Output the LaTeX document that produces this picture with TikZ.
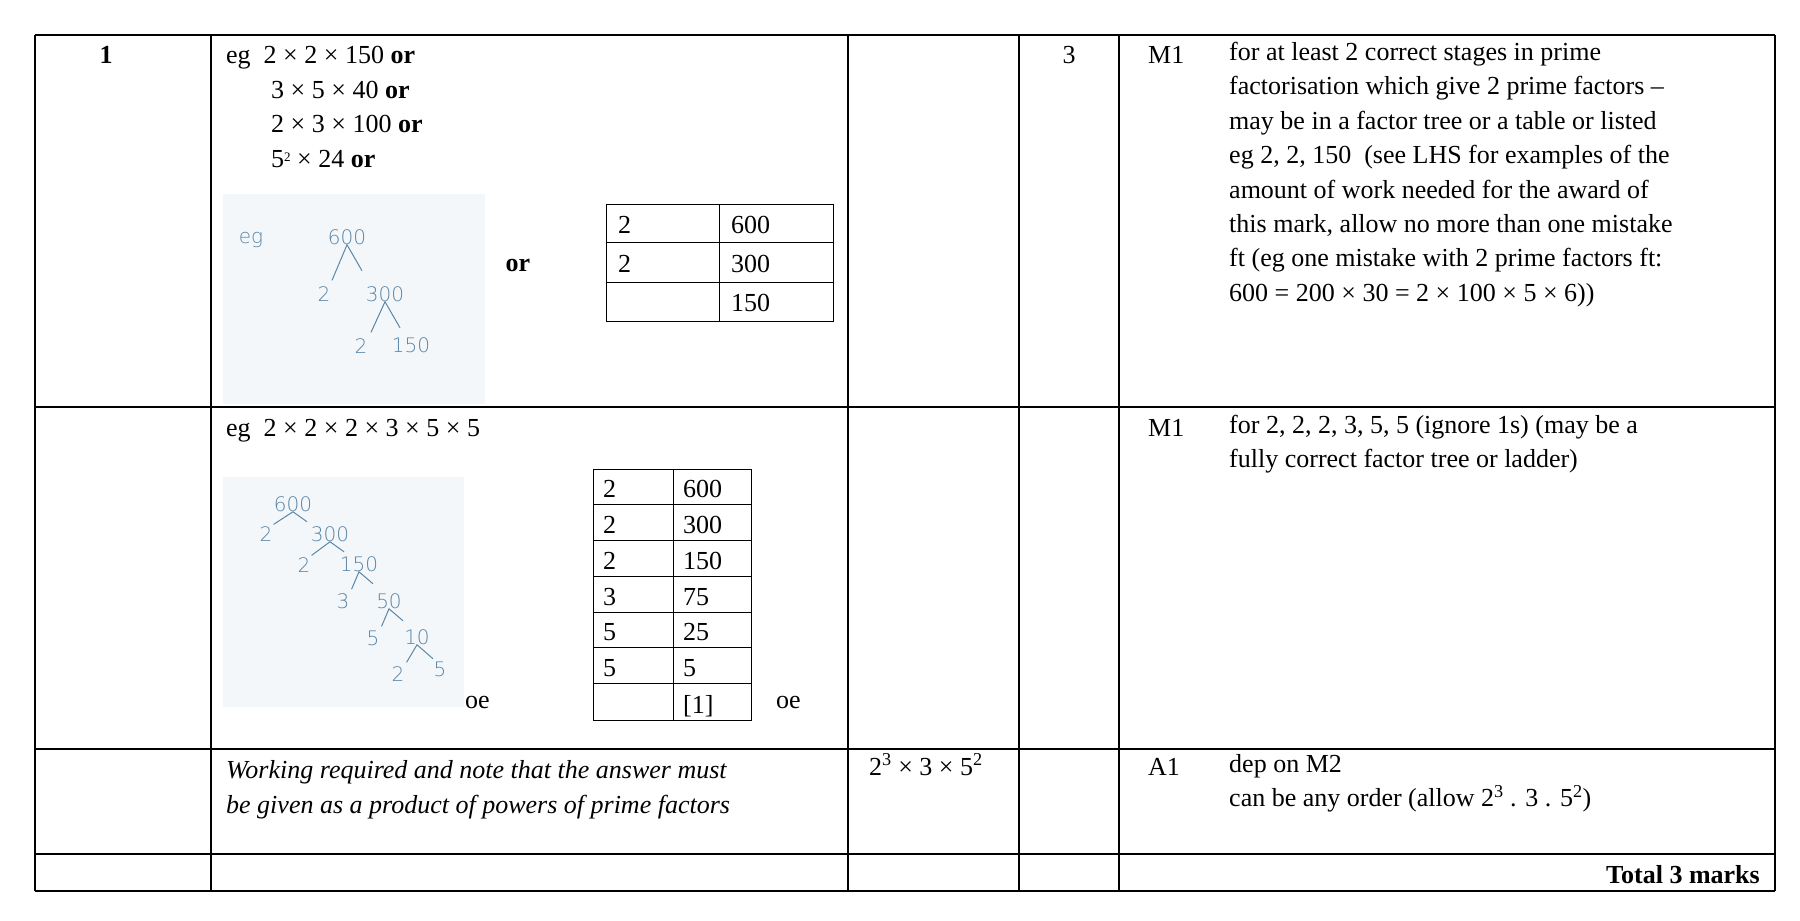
\documentclass[tikz,border=0pt]{standalone}
\usepackage{fontspec}
\setmainfont{Liberation Serif}
\newfontfamily\hand{DejaVu Sans ExtraLight}
\begin{document}
\begin{tikzpicture}[x=1pt,y=-1pt,
  tx/.style={anchor=base west,inner sep=0pt,font=\fontsize{26}{34}\selectfont},
  hw/.style={anchor=center,inner sep=0pt,text=hblue,font=\hand\fontsize{20}{20}\selectfont},
  hl/.style={draw=hblue,line width=1pt},
  grid/.style={line width=1.3pt},
  sgrid/.style={line width=1pt}]
\definecolor{hblue}{HTML}{5A86A8}
\definecolor{hbg}{HTML}{F4F7F9}
\useasboundingbox (0,0) rectangle (1800,921);
\fill[white] (0,0) rectangle (1800,921);
% main grid
\foreach \x in {35,211,848,1019,1119,1775} \draw[grid] (\x,35) -- (\x,891);
\foreach \y in {35,407,749,854,891} \draw[grid] (35,\y) -- (1775,\y);
% row 1
\node[tx,anchor=base] (q) at (106,63) {\textbf{1}};
\node[tx] (a1) at (226,63) {eg\enspace 2 × 2 × 150 \textbf{or}};
\node[tx] (a2) at (271,98) {3 × 5 × 40 \textbf{or}};
\node[tx] (a3) at (271,132) {2 × 3 × 100 \textbf{or}};
\node[tx] (a4) at (271,167) {5\raisebox{0.5ex}{\fontsize{13}{13}\selectfont 2} × 24 \textbf{or}};
% tree 1
\fill[hbg] (223,194) rectangle (485,404);
\node[hw] (eg) at (251,240) {eg};
\node[hw] (t600) at (347,237) {600};
\node[hw] (t2a) at (324,294) {2};
\node[hw] (t300) at (385,294) {300};
\node[hw] (t2b) at (361,346) {2};
\node[hw] (t150) at (411,345) {150};
\draw[hl] (t2a.north)++(8,-6) -- (t600.south) -- ++(15,26);
\draw[hl] (t2b.north)++(10,-6) -- (t300.south) -- ++(15,26);
\node[tx,anchor=base] (or1) at (518,271) {\textbf{or}};
% table 1
\draw[sgrid] (606,204) rectangle (833,321);
\draw[sgrid] (719,204) -- (719,321) (606,242) -- (833,242) (606,282) -- (833,282);
\node[tx] (c11) at (618,233) {2};
\node[tx] (c12) at (731,233) {600};
\node[tx] (c21) at (618,272) {2};
\node[tx] (c22) at (731,272) {300};
\node[tx] (c32) at (731,311) {150};
% row 2
\node[tx] (b1) at (226,436) {eg\enspace 2 × 2 × 2 × 3 × 5 × 5};
\fill[hbg] (223,477) rectangle (464,707);
\node[hw] (u600) at (293,504) {600};
\node[hw] (u2a) at (266,534) {2};
\node[hw] (u300) at (330,534) {300};
\node[hw] (u2b) at (304,565) {2};
\node[hw] (u150) at (359,564) {150};
\node[hw] (u3) at (343,601) {3};
\node[hw] (u50) at (389,601) {50};
\node[hw] (u5) at (373,638) {5};
\node[hw] (u10) at (417,637) {10};
\node[hw] (u2c) at (398,674) {2};
\node[hw] (u5b) at (440,669) {5};
\draw[hl] (u2a.north east)++(1,-2) -- (u600.south) ++(0,0) -- ++(14,10);
\draw[hl] (u2b.north east)++(1,-2) -- (u300.south) -- ++(14,10);
\draw[hl] (u3.north east)++(2,-4) -- (u150.south) -- ++(14,12);
\draw[hl] (u5.north east)++(2,-4) -- (u50.south) -- ++(14,12);
\draw[hl] (u2c.north east)++(2,-4) -- (u10.south) -- ++(16,14);
\node[tx] (oe1) at (465,708) {oe};
% table 2
\draw[sgrid] (593,469) rectangle (751,720);
\draw[sgrid] (673,469) -- (673,720);
\foreach \y in {504,540,576,612,647,683} \draw[sgrid] (593,\y) -- (751,\y);
\foreach \a/\b/\y [count=\i] in {2/600/497,2/300/533,2/150/569,3/75/605,5/25/640,5/5/676} {
  \node[tx] (l\i) at (603,\y) {\a};
  \node[tx] (r\i) at (683,\y) {\b};
}
\node[tx] (r7) at (683,713) {[1]};
\node[tx] (oe2) at (776,708) {oe};
% row 3
\node[tx] (w1) at (226,778) {\itshape Working required and note that the answer must};
\node[tx] (w2) at (226,813) {\itshape be given as a product of powers of prime factors};
\node[tx] (ans) at (869,775) {2\textsuperscript{3} × 3 × 5\textsuperscript{2}};
% marks column
\node[tx,anchor=base] (m3) at (1069,63) {3};
\node[tx] (m1) at (1148,63) {M1};
\node[tx,anchor=north west,align=left,font=\fontsize{26}{34.4}\selectfont] (g1) at (1229,42) {for at least 2 correct stages in prime\\factorisation which give 2 prime factors –\\may be in a factor tree or a table or listed\\eg 2, 2, 150\enspace (see LHS for examples of the\\amount of work needed for the award of\\this mark, allow no more than one mistake\\ft (eg one mistake with 2 prime factors ft:\\600 = 200 × 30 = 2 × 100 × 5 × 6))};
\node[tx] (m2) at (1148,436) {M1};
\node[tx,anchor=north west,align=left,font=\fontsize{26}{34.4}\selectfont] (g2) at (1229,415) {for 2, 2, 2, 3, 5, 5 (ignore 1s) (may be a\\fully correct factor tree or ladder)};
\node[tx] (m4) at (1148,775) {A1};
\node[tx,anchor=north west,align=left,font=\fontsize{26}{34.4}\selectfont] (g3) at (1229,754) {dep on M2\\can be any order (allow 2\textsuperscript{3} . 3 . 5\textsuperscript{2})};
\node[tx,anchor=base east] (tot) at (1760,883) {\textbf{Total 3 marks}};
\end{tikzpicture}
\end{document}
